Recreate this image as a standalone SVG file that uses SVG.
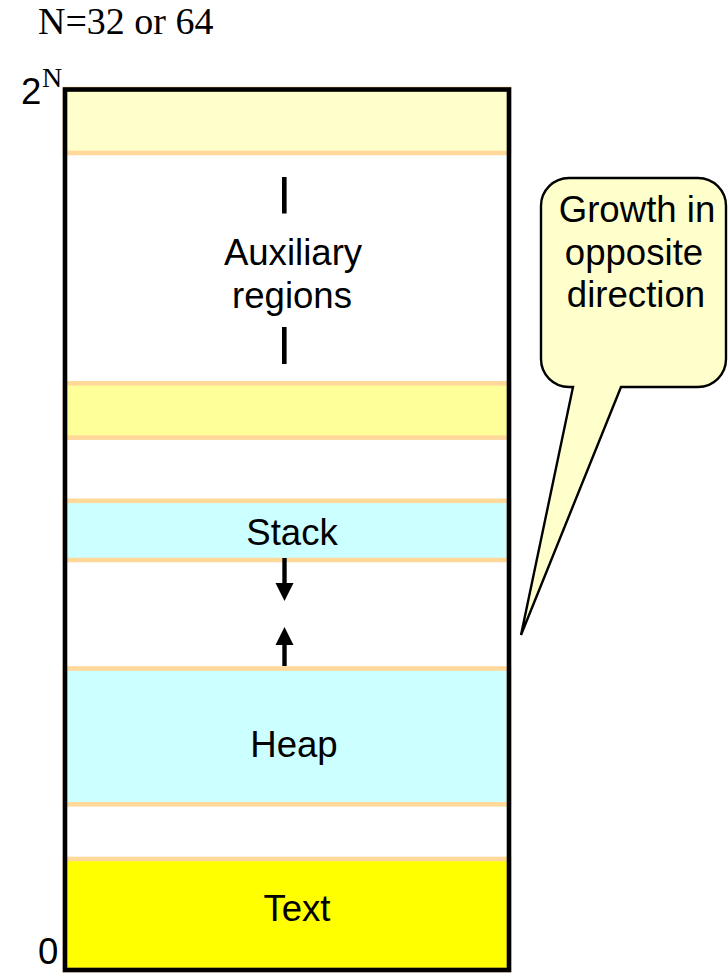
<svg xmlns="http://www.w3.org/2000/svg" width="728" height="973" viewBox="0 0 728 973">
  <style>
    .sans { font-family: "Liberation Sans", Arial, sans-serif; font-size: 36.6px; fill: #000; }
    .serif { font-family: "Liberation Serif", "Times New Roman", serif; fill: #000; }
    .band { stroke: #FFD89A; stroke-width: 4.6; }
    .mid { text-anchor: middle; }
  </style>
  <defs>
    <marker id="head" viewBox="0 0 10 10" refX="0" refY="5" markerWidth="4.1" markerHeight="5" markerUnits="strokeWidth" orient="auto">
      <path d="M0,0 L10,5 L0,10 Z" fill="#000"/>
    </marker>
  </defs>

  <rect width="728" height="973" fill="#fff"/>

  <!-- word size label -->
  <text class="serif" x="38" y="34" font-size="38">N=32 or 64</text>

  <!-- address-space bands -->
  <g id="aux-top"><rect class="band" x="65" y="89" width="444" height="64" fill="#FFFFCC"/></g>
  <g id="aux-regions">
    <rect x="282" y="177" width="4.6" height="36.5" fill="#000"/>
    <text class="sans mid" x="293" y="265">Auxiliary</text>
    <text class="sans mid" x="292" y="308">regions</text>
    <rect x="282" y="327" width="4.6" height="37" fill="#000"/>
  </g>
  <g id="aux-band"><rect class="band" x="65" y="383.3" width="444" height="54.3" fill="#FFFF99"/></g>
  <g id="stack">
    <rect class="band" x="65" y="500.8" width="444" height="59.2" fill="#CCFFFF"/>
    <text class="sans mid" x="292" y="545">Stack</text>
  </g>
  <g id="heap">
    <rect class="band" x="65" y="668.5" width="444" height="135.8" fill="#CCFFFF"/>
    <text class="sans mid" x="294" y="757">Heap</text>
  </g>
  <g id="text-seg">
    <rect class="band" x="65" y="859" width="444" height="111" fill="#FFFF00"/>
    <text class="sans mid" x="297" y="921">Text</text>
  </g>

  <!-- outer frame -->
  <g id="frame"><rect x="65" y="89.5" width="444" height="880.5" fill="none" stroke="#000" stroke-width="4.6"/></g>

  <!-- address labels -->
  <g id="labels">
    <text class="sans" x="21" y="104">2</text>
    <text class="serif" x="42" y="87" font-size="28">N</text>
    <text class="sans" x="38" y="964">0</text>
  </g>

  <!-- growth arrows -->
  <g id="connectors" stroke="#000" stroke-width="4.4" fill="none">
    <line x1="284.5" y1="558" x2="284.5" y2="583" marker-end="url(#head)"/>
    <line x1="284.5" y1="666" x2="284.5" y2="645" marker-end="url(#head)"/>
  </g>

  <!-- callout -->
  <g id="callout">
    <path d="M569,178 H698 A28,28 0 0 1 726,206 V359 A28,28 0 0 1 698,387 H621 L521,635 L573,387 H569 A28,28 0 0 1 541,359 V206 A28,28 0 0 1 569,178 Z" fill="#FFFFCC" stroke="#000" stroke-width="2.4" stroke-linejoin="miter"/>
    <text class="sans mid" x="637" y="222">Growth in</text>
    <text class="sans mid" x="634" y="265">opposite</text>
    <text class="sans mid" x="636" y="307">direction</text>
  </g>
</svg>
